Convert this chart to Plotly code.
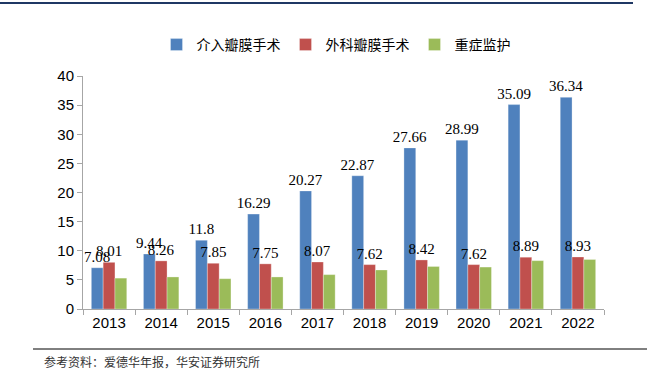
import plotly.graph_objects as go

years = ["2013", "2014", "2015", "2016", "2017", "2018", "2019", "2020", "2021", "2022"]
interventional = [7.08, 9.44, 11.8, 16.29, 20.27, 22.87, 27.66, 28.99, 35.09, 36.34]
surgical = [8.01, 8.26, 7.85, 7.75, 8.07, 7.62, 8.42, 7.62, 8.89, 8.93]
critical_care = [5.3, 5.5, 5.2, 5.5, 5.9, 6.7, 7.3, 7.2, 8.3, 8.5]
series_names = ["介入瓣膜手术", "外科瓣膜手术", "重症监护"]
y_ticks = [0, 5, 10, 15, 20, 25, 30, 35, 40]

colors = ["#4F81BD", "#C0504D", "#9BBB59"]
label_font = dict(family="Liberation Serif, Times New Roman, serif", size=15, color="#000000")

fig = go.Figure()
fig.add_trace(go.Bar(
    x=years, y=interventional, name=series_names[0],
    marker=dict(color=colors[0], line=dict(color="rgba(255,255,255,0.6)", width=0.5)),
    text=[f"{v:g}" for v in interventional], textposition="outside",
    textfont=label_font, constraintext="none", cliponaxis=False,
))
fig.add_trace(go.Bar(
    x=years, y=surgical, name=series_names[1],
    marker=dict(color=colors[1], line=dict(color="rgba(255,255,255,0.6)", width=0.5)),
    text=[f"{v:g}" for v in surgical], textposition="outside",
    textfont=label_font, constraintext="none", cliponaxis=False,
))
fig.add_trace(go.Bar(
    x=years, y=critical_care, name=series_names[2],
    marker=dict(color=colors[2], line=dict(color="rgba(255,255,255,0.6)", width=0.5)),
))

L, R, T, B = 83, 43, 76, 66
W, H = 647, 375
pw, ph = W - L - R, H - T - B

def px(x):
    return (x - L) / pw

def py(y):
    return (H - B - y) / ph

fig.update_layout(
    width=W, height=H,
    margin=dict(l=L, r=R, t=T, b=B, autoexpand=False),
    paper_bgcolor="white", plot_bgcolor="white",
    barmode="group", bargap=0.32, bargroupgap=0,
    showlegend=True,
    legend=dict(
        orientation="h", x=px(336), xanchor="center", y=py(45), yanchor="middle",
        font=dict(family="Noto Sans CJK SC", size=14, color="#000000"),
        itemwidth=30, traceorder="normal",
    ),
    xaxis=dict(
        type="category", showline=True, linecolor="#A6A6A6", linewidth=1,
        ticks="outside", tickson="boundaries", ticklen=5, tickcolor="#A6A6A6",
        tickfont=dict(family="Liberation Sans, Arial, sans-serif", size=15, color="#000000"),
        showgrid=False,
    ),
    yaxis=dict(
        range=[0, 40], tickvals=y_ticks, showline=True, linecolor="#A6A6A6", linewidth=1,
        ticks="outside", ticklen=5, tickcolor="#A6A6A6",
        tickfont=dict(family="Liberation Sans, Arial, sans-serif", size=15, color="#000000"),
        showgrid=False, zeroline=False,
    ),
    shapes=[
        dict(type="line", xref="paper", yref="paper", x0=px(0), x1=px(633), y0=py(3), y1=py(3),
             line=dict(color="#1F3864", width=2)),
        dict(type="line", xref="paper", yref="paper", x0=px(33), x1=px(647), y0=py(349), y1=py(349),
             line=dict(color="#000000", width=1)),
    ],
    annotations=[
        dict(text="参考资料：爱德华年报，华安证券研究所", xref="paper", yref="paper",
             x=px(42), y=py(361), xanchor="left", yanchor="middle", showarrow=False,
             font=dict(family="Noto Sans CJK SC", size=12, color="#333333")),
    ],
)

fig.write_html("out.html", config={"displayModeBar": False})

# remove the browser's default page margin so the figure sits at the window's top-left corner
with open("out.html", "r", encoding="utf-8") as f:
    html = f.read()
html = html.replace("<head>", "<head><style>html,body{margin:0;padding:0;overflow:hidden;}</style>", 1)
with open("out.html", "w", encoding="utf-8") as f:
    f.write(html)
